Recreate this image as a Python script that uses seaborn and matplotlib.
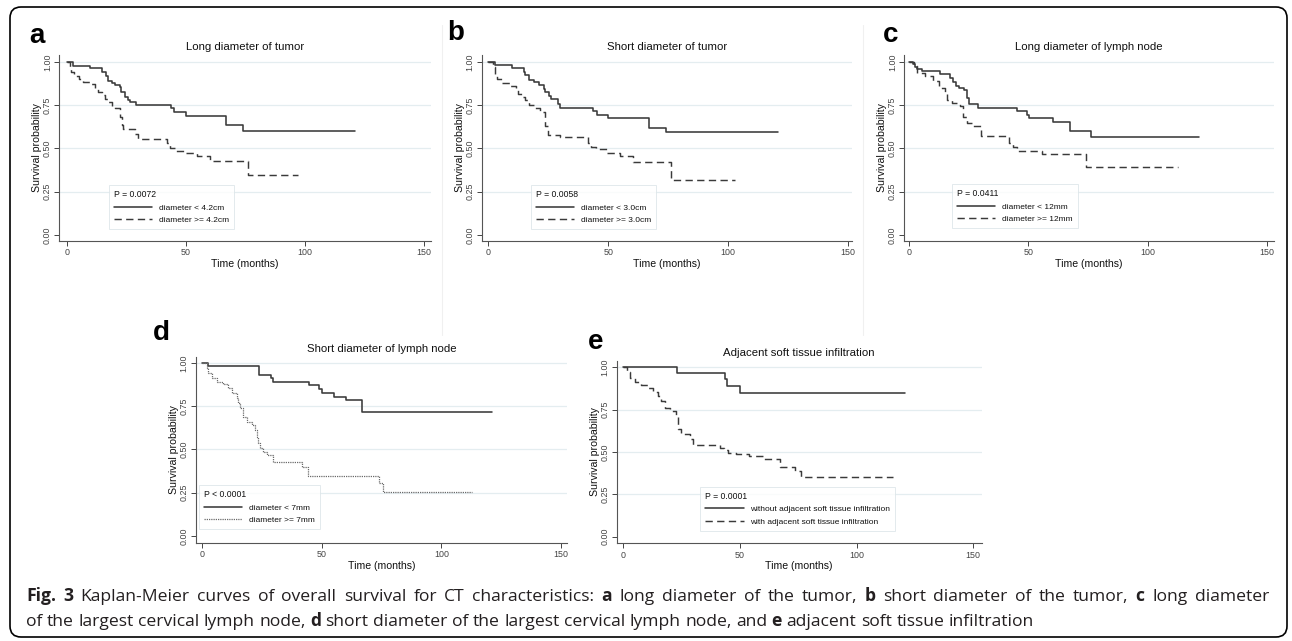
import matplotlib
matplotlib.use("Agg")
import matplotlib.pyplot as plt
from matplotlib.patches import FancyBboxPatch
from matplotlib.lines import Line2D
import seaborn as sns
import pandas as pd

# ---------------- data ----------------
xticks = [0, 50, 100, 150]
yticks = [0.0, 0.25, 0.5, 0.75, 1.0]
ytick_labels = ["0.00", "0.25", "0.50", "0.75", "1.00"]

titles = ["Long diameter of tumor", "Short diameter of tumor", "Long diameter of lymph node",
          "Short diameter of lymph node", "Adjacent soft tissue infiltration"]
panel_letters = ["a", "b", "c", "d", "e"]
p_values = ["P = 0.0072", "P = 0.0058", "P = 0.0411", "P < 0.0001", "P = 0.0001"]
labels_low = ["diameter < 4.2cm", "diameter < 3.0cm", "diameter < 12mm", "diameter < 7mm",
              "without adjacent soft tissue infiltration"]
labels_high = ["diameter >= 4.2cm", "diameter >= 3.0cm", "diameter >= 12mm", "diameter >= 7mm",
               "with adjacent soft tissue infiltration"]

a_low_t = [0, 2.5, 10, 15, 16.5, 17.5, 19, 20.3, 22.4, 23, 24.5, 25.6, 26.6, 29, 43.8, 45.2, 50, 67, 74, 121]
a_low_s = [1.0, 0.977, 0.962, 0.943, 0.917, 0.892, 0.879, 0.864, 0.854, 0.826, 0.797, 0.782, 0.769, 0.75,
           0.731, 0.708, 0.688, 0.633, 0.602, 0.602]
a_high_t = [0, 1.5, 2, 3, 5, 7, 10, 12, 13.3, 14.7, 16.1, 17.5, 19, 20.3, 22.4, 23.1, 23.8, 28.5, 30, 42,
            43.4, 45.5, 49.7, 54.6, 60.2, 76.3, 97.3]
a_high_s = [1.0, 0.97, 0.94, 0.92, 0.90, 0.885, 0.87, 0.85, 0.826, 0.807, 0.788, 0.769, 0.746, 0.735, 0.684,
            0.636, 0.614, 0.585, 0.557, 0.532, 0.504, 0.485, 0.473, 0.455, 0.428, 0.345, 0.345]

b_low_t = [0, 2.8, 9.8, 14.7, 15.4, 16.8, 18.9, 21, 23.1, 23.8, 25.2, 26.2, 29, 29.8, 43.8, 45.2, 50.1, 67, 74, 121]
b_low_s = [1.0, 0.981, 0.962, 0.943, 0.924, 0.898, 0.886, 0.867, 0.845, 0.826, 0.803, 0.788, 0.754, 0.731,
           0.716, 0.693, 0.674, 0.621, 0.593, 0.593]
b_high_t = [0, 1.8, 2.8, 3.5, 5.6, 9.1, 11.6, 12.2, 14, 15.4, 16.8, 18.9, 21.4, 23.8, 24.9, 29.8, 41.6,
            42.7, 44.8, 49.4, 55, 60.2, 76.3, 103]
b_high_s = [1.0, 0.968, 0.93, 0.90, 0.88, 0.86, 0.848, 0.816, 0.797, 0.778, 0.75, 0.731, 0.712, 0.627, 0.58,
            0.564, 0.532, 0.508, 0.494, 0.473, 0.455, 0.424, 0.315, 0.315]

c_low_t = [0, 1.8, 2.5, 3.2, 5.3, 13, 17.2, 18.3, 19.7, 21.1, 23, 24.2, 25.1, 29, 45.1, 49.3, 50.4, 60.2,
           67.5, 76.3, 121.2]
c_low_s = [1.0, 0.987, 0.968, 0.958, 0.947, 0.93, 0.905, 0.883, 0.86, 0.848, 0.84, 0.792, 0.754, 0.735,
           0.716, 0.693, 0.674, 0.65, 0.598, 0.568, 0.568]
c_high_t = [0, 2.1, 3.2, 6.7, 10.2, 12.7, 15.1, 16.1, 17.9, 21.4, 22.8, 24.2, 26.3, 30.2, 42, 43.7, 45.1,
            55.6, 74.2, 112.8]
c_high_s = [1.0, 0.975, 0.936, 0.92, 0.892, 0.848, 0.816, 0.778, 0.76, 0.746, 0.684, 0.646, 0.627, 0.57,
            0.532, 0.508, 0.485, 0.466, 0.394, 0.394]

d_low_t = [0, 2.5, 23.9, 28.8, 29.7, 44.8, 48.9, 50, 54.9, 60, 66.8, 121]
d_low_s = [1.0, 0.981, 0.929, 0.91, 0.89, 0.871, 0.846, 0.827, 0.804, 0.785, 0.713, 0.713]
d_high_t = [0, 1.8, 2.5, 3.9, 6.0, 8.8, 10.9, 12.3, 14.4, 15.1, 15.8, 17.2, 18.6, 20.7, 22.1, 22.8, 23.5,
            24.2, 25.6, 27, 29.7, 41.9, 44.4, 73.7, 75.6, 112.8]
d_high_s = [1.0, 0.967, 0.94, 0.913, 0.89, 0.875, 0.852, 0.823, 0.798, 0.765, 0.737, 0.688, 0.66, 0.64,
            0.612, 0.573, 0.535, 0.506, 0.487, 0.467, 0.429, 0.40, 0.346, 0.304, 0.256, 0.256]

e_low_t = [0, 23.2, 43.6, 44.5, 50.1, 120.7]
e_low_s = [1.0, 0.965, 0.93, 0.887, 0.848, 0.848]
e_high_t = [0, 1.4, 2.8, 5, 7.8, 10.7, 12.8, 14.9, 16.3, 17.8, 19.9, 22.7, 23.4, 24.9, 28.4, 29.8, 41.6,
            43.3, 44.7, 48.3, 54, 59.7, 67.2, 73.6, 76, 115.8]
e_high_s = [1.0, 0.975, 0.935, 0.916, 0.896, 0.877, 0.857, 0.828, 0.80, 0.76, 0.74, 0.72, 0.633, 0.604,
            0.578, 0.539, 0.525, 0.512, 0.496, 0.486, 0.477, 0.457, 0.414, 0.389, 0.355, 0.355]

caption_line1 = [("Fig. 3", True), ("Kaplan-Meier curves of overall survival for CT characteristics:", False),
                 ("a", True), ("long diameter of the tumor,", False), ("b", True),
                 ("short diameter of the tumor,", False), ("c", True), ("long diameter", False)]
caption_line2 = [("of the largest cervical lymph node,", False), ("d", True),
                 ("short diameter of the largest cervical lymph node, and", False), ("e", True),
                 ("adjacent soft tissue infiltration", False)]

# ---------------- style ----------------
sns.set_theme(style="white")
plt.rcParams["font.family"] = ["Liberation Sans", "DejaVu Sans"]

W, H = 1292, 641
fig = plt.figure(figsize=(W / 100, H / 100), dpi=100)
fig.patch.set_facecolor("white")

LINE = "#3a3a3a"
GRID = "#e4edf0"

# layout in pixels: left, right, top, bottom of axes; xlim; ylim; legend anchor; letter pos
panels = [
    dict(rect=(59.3, 430.7, 55, 240.7), xlim=(-3.1, 152.9), ylim=(-0.033, 1.04), leg=(17.8, 0.035),
         letter=(29, 43), low=(a_low_t, a_low_s), high=(a_high_t, a_high_s), hs="dash"),
    dict(rect=(481.7, 852, 55, 240.7), xlim=(-2.75, 151.7), ylim=(-0.033, 1.04), leg=(17.7, 0.035),
         letter=(447, 40), low=(b_low_t, b_low_s), high=(b_high_t, b_high_s), hs="dash"),
    dict(rect=(904.3, 1274, 55, 240.7), xlim=(-1.97, 152.8), ylim=(-0.033, 1.04), leg=(18.0, 0.04),
         letter=(883, 42), low=(c_low_t, c_low_s), high=(c_high_t, c_high_s), hs="dash"),
    dict(rect=(196, 567.3, 356.7, 542.7), xlim=(-2.6, 152.6), ylim=(-0.039, 1.035), leg=(-1.4, 0.04),
         letter=(153, 340), low=(d_low_t, d_low_s), high=(d_high_t, d_high_s), hs="dot"),
    dict(rect=(616.7, 981.7, 360.7, 543.3), xlim=(-2.8, 153.6), ylim=(-0.039, 1.039), leg=(33, 0.035),
         letter=(588, 349), low=(e_low_t, e_low_s), high=(e_high_t, e_high_s), hs="dash"),
]

for i, p in enumerate(panels):
    l, r, t, b = p["rect"]
    ax = fig.add_axes([l / W, 1 - b / H, (r - l) / W, (b - t) / H])
    lt, ls = p["low"]
    ht, hs = p["high"]
    df_low = pd.DataFrame({"t": lt, "s": ls})
    df_high = pd.DataFrame({"t": ht, "s": hs})
    sns.lineplot(data=df_low, x="t", y="s", ax=ax, estimator=None, drawstyle="steps-post",
                 color=LINE, linewidth=1.15, label=labels_low[i])
    if p["hs"] == "dash":
        sns.lineplot(data=df_high, x="t", y="s", ax=ax, estimator=None, drawstyle="steps-post",
                     color=LINE, linewidth=1.05, linestyle=(0, (5, 3)), label=labels_high[i])
    else:
        sns.lineplot(data=df_high, x="t", y="s", ax=ax, estimator=None, drawstyle="steps-post",
                     color="#6a6a6a", linewidth=0.9, linestyle=(0, (1, 0.8)), label=labels_high[i])

    ax.set_xlim(*p["xlim"])
    ax.set_ylim(*p["ylim"])
    ax.set_xticks(xticks)
    ax.set_xticklabels([str(v) for v in xticks])
    ax.set_yticks(yticks)
    ax.set_yticklabels(ytick_labels)
    ax.tick_params(axis="both", which="both", direction="out", length=3.5, width=0.7,
                   colors="#444444", labelsize=6.4, pad=1.8, left=True, bottom=True)
    ax.tick_params(axis="y", labelrotation=90)
    for lab in ax.get_yticklabels():
        lab.set_va("center")
    ax.yaxis.grid(True, color=GRID, linewidth=0.9)
    ax.xaxis.grid(False)
    ax.get_ygridlines()[0].set_visible(False)
    for side in ["top", "right"]:
        ax.spines[side].set_visible(False)
    for side in ["left", "bottom"]:
        ax.spines[side].set_color("#555555")
        ax.spines[side].set_linewidth(0.8)
    ax.set_facecolor("white")

    ax.set_xlabel("Time (months)", fontsize=7.6, labelpad=1.2, color="#111111")
    ax.set_ylabel("Survival probability", fontsize=7.6, labelpad=0.6, color="#111111")
    ax.set_title(titles[i], fontsize=8.2, pad=3.5, color="#111111")

    handles, labs = ax.get_legend_handles_labels()
    leg = ax.legend(handles=handles, labels=labs, title=p_values[i], loc="lower left",
                    bbox_to_anchor=p["leg"], bbox_transform=ax.transData, borderaxespad=0,
                    fontsize=6, title_fontsize=6.2, frameon=True, fancybox=False,
                    edgecolor="#dbe4e8", handlelength=4.6, handletextpad=0.8, labelspacing=0.55,
                    borderpad=0.6, alignment="left")
    leg.get_frame().set_linewidth(0.7)
    leg.get_title().set_color("#111111")
    for txt in leg.get_texts():
        txt.set_color("#111111")

    lx, ly = p["letter"]
    fig.text(lx / W, 1 - ly / H, panel_letters[i], fontsize=20, fontweight="bold",
             ha="left", va="baseline", color="black")

# faint image separators
for xs in (442, 863):
    fig.add_artist(Line2D([xs / W, xs / W], [1 - 25 / H, 1 - 335 / H], color="#f0f0f0",
                          linewidth=0.8, transform=fig.transFigure))

# rounded frame
frame = FancyBboxPatch((10 / 100, 4 / 100), 12.77, 6.30, boxstyle="round,pad=0,rounding_size=0.11",
                       transform=fig.dpi_scale_trans, fill=False, edgecolor="black", linewidth=1.2)
fig.add_artist(frame)

# caption (rich text, first line justified)
renderer = fig.canvas.get_renderer()
CAP_FONT = ["Open Sans", "DejaVu Sans"]
CAP_SIZE = 12.6


def text_width(s, bold):
    tt = fig.text(0, 0, s, fontsize=CAP_SIZE, family=CAP_FONT, fontweight="bold" if bold else "normal")
    w = tt.get_window_extent(renderer).width
    tt.remove()
    return w


space_w = text_width("a a", False) - text_width("aa", False)


def draw_line(pieces, x_px, y_px, right_px=None):
    words = [(w, bold) for s, bold in pieces for w in s.split(" ")]
    widths = [text_width(w, bold) for w, bold in words]
    gap = space_w
    if right_px is not None:
        gap = (right_px - x_px - sum(widths)) / (len(words) - 1)
    x = x_px
    for (w, bold), wd in zip(words, widths):
        fig.text(x / W, 1 - y_px / H, w, fontsize=CAP_SIZE, family=CAP_FONT,
                 fontweight="bold" if bold else "normal", ha="left", va="baseline",
                 color="#231f20")
        x += wd + gap


draw_line(caption_line1, 26, 601, right_px=1269)
draw_line(caption_line2, 26, 626)

fig.savefig("out.png", dpi=100, facecolor="white")
